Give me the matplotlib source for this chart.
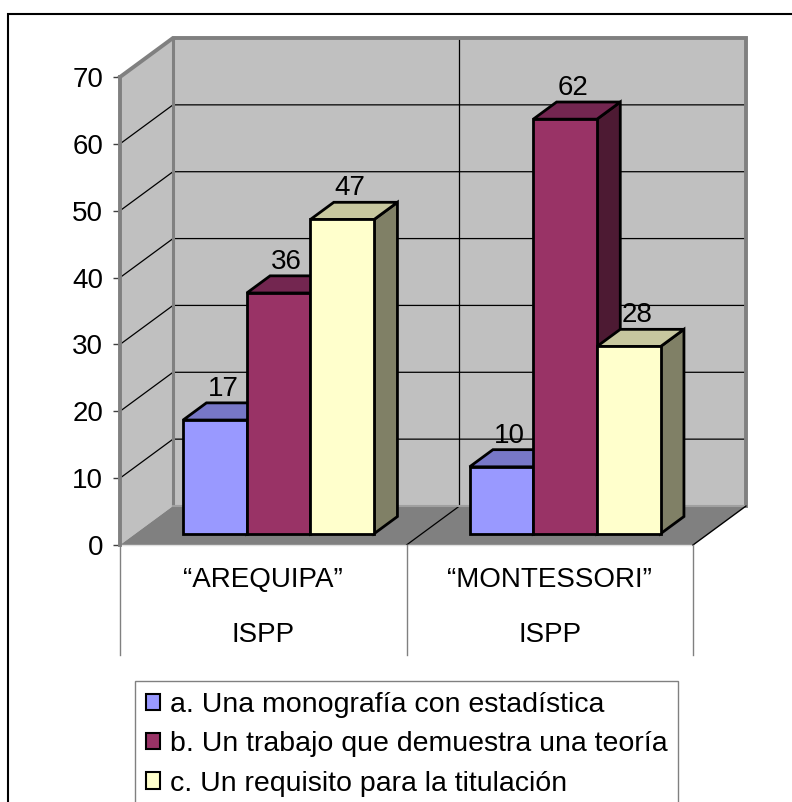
import matplotlib
matplotlib.use("Agg")
import matplotlib.pyplot as plt
from matplotlib.patches import Polygon, Rectangle, Patch

plt.rcParams['font.family'] = ['Liberation Sans', 'DejaVu Sans']

# ---- data ----
categories = ['\u201cAREQUIPA\u201d', '\u201cMONTESSORI\u201d']
sub_labels = ['ISPP', 'ISPP']
series_names = ['a. Una monografía con estadística',
                'b. Un trabajo que demuestra una teoría',
                'c. Un requisito para la titulación']
values_a = [17, 10]
values_b = [36, 62]
values_c = [47, 28]
series_values = [values_a, values_b, values_c]
yticks = [0, 10, 20, 30, 40, 50, 60, 70]

front_colors = ['#9999FF', '#993366', '#FFFFCC']
top_colors = ['#7777C7', '#732650', '#C7C79F']
side_colors = ['#4D4D80', '#4D1A33', '#808066']

FS = 20

W, H = 792, 802
fig = plt.figure(figsize=(W / 100, H / 100), dpi=100)
ax = fig.add_axes([120 / W, 257 / H, 573 / W, 468 / H])
ymax = yticks[-1]
ncat = len(categories)
ax.set_xlim(0, ncat)
ax.set_ylim(0, ymax)

# 3D depth expressed in data units
DX = 53 / 573 * ncat
DY = 39 / 468 * ymax
f0, f1 = 0.29, 0.73          # bar depth span (fraction of full depth)
bd = f1 - f0
w = 1 / (3 + 1.5)            # bar width (gap width 150%)

wall = '#C0C0C0'
edge_gray = '#808080'

# walls and floor
ax.add_patch(Polygon([(0, 0), (0, ymax), (DX, ymax + DY), (DX, DY)],
                     closed=True, fc=wall, ec='none', zorder=1, clip_on=False))
ax.add_patch(Polygon([(DX, DY), (ncat + DX, DY), (ncat + DX, ymax + DY), (DX, ymax + DY)],
                     closed=True, fc=wall, ec='none', zorder=1, clip_on=False))
ax.add_patch(Polygon([(0, 0), (ncat, 0), (ncat + DX, DY), (DX, DY)],
                     closed=True, fc=edge_gray, ec='none', zorder=1, clip_on=False))
# gridlines
for v in yticks[1:-1]:
    ax.plot([0, DX, ncat + DX], [v, v + DY, v + DY], color='black', lw=0.9,
            zorder=2, clip_on=False)
# category divider on floor / back wall
for c in range(1, ncat):
    ax.plot([c, c + DX, c + DX], [0, DY, ymax + DY], color='black', lw=0.9,
            zorder=2, clip_on=False)
# wall edges
ax.plot([0, DX, ncat + DX, ncat + DX], [ymax, ymax + DY, ymax + DY, DY],
        color=edge_gray, lw=2.8, zorder=2, clip_on=False, solid_joinstyle='miter')
ax.plot([DX, DX], [DY, ymax + DY], color=edge_gray, lw=2.2, zorder=2, clip_on=False)
ax.plot([DX, ncat + DX], [DY, DY], color='#A0A0A0', lw=1.5, zorder=2, clip_on=False)
ax.plot([0, ncat], [0, 0], color='#E0E0E0', lw=1.0, zorder=2, clip_on=False)
ax.plot([ncat, ncat + DX], [0, DY], color='black', lw=1.0, zorder=2, clip_on=False)

# bars
z = 5
for i in range(ncat):
    for j, vals in enumerate(series_values):
        v = vals[i]
        x0 = i + f0 * DX + 0.75 * w + j * w
        y0 = f0 * DY
        ox, oy = bd * DX, bd * DY
        front = Polygon([(x0, y0), (x0 + w, y0), (x0 + w, y0 + v), (x0, y0 + v)],
                        closed=True, fc=front_colors[j], ec='black', lw=2,
                        zorder=z, clip_on=False, joinstyle='miter')
        top = Polygon([(x0, y0 + v), (x0 + w, y0 + v), (x0 + w + ox, y0 + v + oy),
                       (x0 + ox, y0 + v + oy)], closed=True, fc=top_colors[j],
                      ec='black', lw=2, zorder=z, clip_on=False, joinstyle='miter')
        side = Polygon([(x0 + w, y0), (x0 + w + ox, y0 + oy), (x0 + w + ox, y0 + v + oy),
                        (x0 + w, y0 + v)], closed=True, fc=side_colors[j],
                       ec='black', lw=2, zorder=z, clip_on=False, joinstyle='miter')
        ax.add_patch(side)
        ax.add_patch(top)
        ax.add_patch(front)
        z += 1
        ax.text(x0 + w / 2 + 0.15 * DX, v + 5.3, str(v), ha='center', va='baseline',
                fontsize=FS, color='black', zorder=20)

# axes styling
for s in ['top', 'right', 'bottom']:
    ax.spines[s].set_visible(False)
ax.spines['left'].set_color(edge_gray)
ax.spines['left'].set_linewidth(2.8)
ax.spines['left'].set_zorder(3)
ax.set_yticks(yticks)
ax.set_yticklabels([str(t) for t in yticks])
ax.tick_params(axis='y', direction='out', length=5, width=1, color='#404040',
               pad=7, labelsize=FS)
ax.set_xticks([])
ax.patch.set_visible(False)

# category table below
tbl_bottom = -16.45
for c in range(ncat + 1):
    ax.plot([c, c], [0, tbl_bottom], color=edge_gray, lw=1.0, zorder=2, clip_on=False)
for i in range(ncat):
    ax.text(i + 0.5, -5.23, categories[i], ha='center', va='center', fontsize=FS)
    ax.text(i + 0.5, -13.46, sub_labels[i], ha='center', va='center', fontsize=FS)

# outer chart border
fig.patches.append(Rectangle((8 / W, -0.05), 1.2, 1 - 14 / H + 0.05,
                             transform=fig.transFigure, fill=False, ec='black',
                             lw=1.5, zorder=0))

# legend
handles = [Patch(facecolor=front_colors[j], edgecolor='black', linewidth=1.5)
           for j in range(len(series_names))]
leg = fig.legend(handles, series_names, loc='upper left',
                 bbox_to_anchor=(135 / W, 1 - 681 / H), borderaxespad=0,
                 fontsize=20.5, handlelength=0.5, handleheight=0.5,
                 handletextpad=0.35, labelspacing=0.47, borderpad=0.38,
                 fancybox=False, shadow=False, framealpha=1)
leg.get_frame().set_edgecolor(edge_gray)
leg.get_frame().set_linewidth(1.0)

fig.savefig('out.png', dpi=100)
